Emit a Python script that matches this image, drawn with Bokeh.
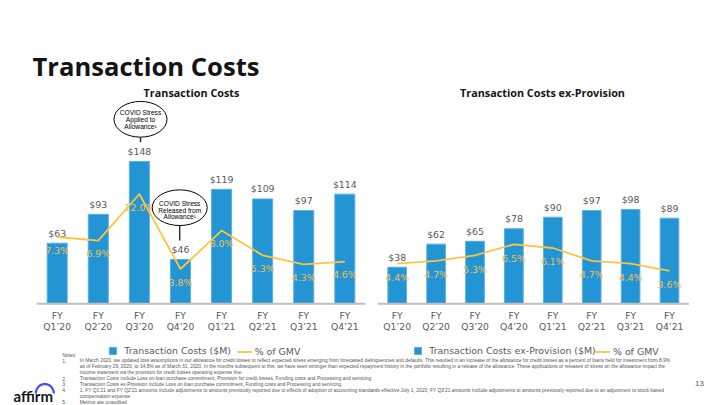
import math
from bokeh.plotting import figure
from bokeh.models import Range1d, Legend, LegendItem
from bokeh.core.properties import value
from bokeh.embed import file_html
from bokeh.resources import INLINE

# ---------------- data ----------------
quarters = ["FY Q1’20", "FY Q2’20", "FY Q3’20", "FY Q4’20",
            "FY Q1’21", "FY Q2’21", "FY Q3’21", "FY Q4’21"]
tc_values = [63, 93, 148, 46, 119, 109, 97, 114]          # Transaction Costs ($M)
tc_pct = [7.3, 6.9, 12.0, 3.8, 8.0, 5.3, 4.3, 4.6]        # % of GMV
exp_values = [38, 62, 65, 78, 90, 97, 98, 89]             # Transaction Costs ex-Provision ($M)
exp_pct = [4.4, 4.7, 5.3, 6.5, 6.1, 4.7, 4.4, 3.6]        # % of GMV

title_text = "Transaction Costs"
left_title = "Transaction Costs"
right_title = "Transaction Costs ex-Provision"
left_bar_label = "Transaction Costs ($M)"
right_bar_label = "Transaction Costs ex-Provision ($M)"
line_label = "% of GMV"
callout_applied = ["COVID Stress", "Applied to", "Allowance¹"]
callout_released = ["COVID Stress", "Released from", "Allowance¹"]

notes_head = "Notes:"
notes_num = ["1.", "", "", "2.", "3.", "4.", "", "5."]
notes_txt = [
    "In March 2020, we updated loss assumptions in our allowance for credit losses to reflect expected stress emerging from forecasted delinquencies and defaults. This resulted in an increase of the allowance for credit losses as a percent of loans held for investment from 8.9%",
    "as of February 29, 2020, to 14.8% as of March 31, 2020. In the months subsequent to this, we have seen stronger than expected repayment history in the portfolio resulting in a release of the allowance. These applications or releases of stress on the allowance impact the",
    "income statement via the provision for credit losses operating expense line.",
    "Transaction Costs include Loss on loan purchase commitment, Provision for credit losses, Funding costs and Processing and servicing",
    "Transaction Costs ex-Provision include Loss on loan purchase commitment, Funding costs and Processing and servicing",
    "1. FY Q1’21 and FY Q2’21 amounts include adjustments to amounts previously reported due to effects of adoption of accounting standards effective July 1, 2020; FY Q3’21 amounts include adjustments to amounts previously reported due to an adjustment to stock-based",
    "compensation expense",
    "Metrics are unaudited",
]
page_number = "13"

# ---------------- styling ----------------
BLUE = "#2394D4"
BLUE_EDGE = "#5AB1E2"
GOLD = "#FCC540"
GOLD_TXT = "#F4C14C"
GRAY = "#595959"
AXIS = "#BFBFBF"
LABEL_FONT = value("DejaVu Sans")
HEAD_FONT = value("Open Sans")

W, H = 720, 405   # primary ranges are slide pixel coordinates (y grows downward)

p = figure(width=W, height=H, x_range=Range1d(0, W), y_range=Range1d(H, 0),
           output_backend="svg", toolbar_location=None, x_axis_type=None, y_axis_type=None,
           min_border=0)
p.outline_line_color = None
p.background_fill_color = "white"
p.border_fill_color = "white"


def x_range_for(center0_px, px_per_unit):
    start = -center0_px / px_per_unit
    return Range1d(start, start + W / px_per_unit)


def y_range_for(base_px, px_per_unit):
    end = base_px / px_per_unit
    return Range1d(end - H / px_per_unit, end)


BASE = 303.3
USD_PX = 0.962
PCT_PX = 9.15
p.extra_y_ranges = {"usd": y_range_for(BASE, USD_PX), "pct": y_range_for(BASE, PCT_PX)}
p.extra_x_ranges = {"lx": x_range_for(56.7, 41.09), "rx": x_range_for(396.7, 38.9)}

idx = list(range(len(quarters)))
fy_part = [q.split(" ")[0] for q in quarters]
q_part = [q.split(" ")[1] for q in quarters]


def draw_chart(xr, vals, pcts, pct_offset, bar_w):
    bars = p.vbar(x=idx, top=vals, bottom=0, width=bar_w, x_range_name=xr, y_range_name="usd",
                  fill_color=BLUE, line_color=BLUE_EDGE, line_width=1)
    p.segment(x0=[-0.5], x1=[len(idx) - 0.5], y0=[0], y1=[0], x_range_name=xr, y_range_name="usd",
              line_color=AXIS, line_width=2)
    p.text(x=idx, y=vals, text=[f"${v}" for v in vals], x_range_name=xr, y_range_name="usd",
           y_offset=-10, text_align="center", text_baseline="middle", text_font=LABEL_FONT,
           text_font_size="9.4px", text_color=GRAY)
    line = p.line(x=idx, y=pcts, x_range_name=xr, y_range_name="pct", line_color=GOLD, line_width=1.8)
    p.text(x=idx, y=pcts, text=[f"{v:.1f}%" for v in pcts], x_range_name=xr, y_range_name="pct",
           y_offset=pct_offset, text_align="center", text_baseline="middle", text_font=LABEL_FONT,
           text_font_size="9.4px", text_color=GOLD_TXT)
    p.text(x=idx, y=[0] * len(idx), text=fy_part, x_range_name=xr, y_range_name="usd",
           y_offset=12, text_align="center", text_baseline="middle", text_font=LABEL_FONT,
           text_font_size="9.2px", text_color=GRAY)
    p.text(x=idx, y=[0] * len(idx), text=q_part, x_range_name=xr, y_range_name="usd",
           y_offset=22.8, text_align="center", text_baseline="middle", text_font=LABEL_FONT,
           text_font_size="9.2px", text_color=GRAY)
    return bars, line


lbars, lline = draw_chart("lx", tc_values, tc_pct, 13, 0.487)
rbars, rline = draw_chart("rx", exp_values, exp_pct, 14, 0.48)


def add_legend(label, renderer, vx, vy, gw, standoff):
    leg = Legend(items=[LegendItem(label=label, renderers=[renderer])], location=(vx, vy),
                 orientation="horizontal", glyph_width=gw, glyph_height=9, label_height=9,
                 label_standoff=standoff, padding=0, margin=0, spacing=0,
                 border_line_color=None, background_fill_alpha=0,
                 label_text_font="DejaVu Sans", label_text_font_size="9.4px",
                 label_text_color=GRAY)
    p.add_layout(leg)


add_legend(left_bar_label, lbars, 108.3, 49, 9, 7)
add_legend(line_label, lline, 236.7, 48, 15, 3)
add_legend(right_bar_label, rbars, 413.3, 49, 9, 7)
add_legend(line_label, rline, 595, 48, 15, 3)

# ---------------- headings ----------------
p.text(x=[32], y=[65.7], text=[title_text], text_font=HEAD_FONT, text_font_style="bold",
       text_font_size="25.6px", text_color="#141414", text_baseline="alphabetic")
p.text(x=[191, 542], y=[92, 92], text=[left_title, right_title], text_font=HEAD_FONT,
       text_font_style="bold", text_font_size="10.8px", text_color="#141414",
       text_align="center", text_baseline="alphabetic")

# ---------------- callouts ----------------
p.segment(x0=[140, 179.2], y0=[136.7, 225], x1=[140, 179.2], y1=[141.7, 240],
          line_color="#333333", line_width=1.5)
p.ellipse(x=[140, 179.2], y=[118.8, 207.2], width=[53, 55], height=[35.7, 35.7],
          fill_color="white", line_color="black", line_width=1)
p.text(x=[140] * 3 + [179.2] * 3, y=[112.3, 119.0, 125.7, 203.3, 209.6, 215.9],
       text=callout_applied + callout_released, text_font=value("Liberation Sans"),
       text_font_size="6.6px", text_color="black", text_align="center", text_baseline="middle")

# ---------------- footnotes ----------------
ys = [360.3 + 5.9 * i for i in range(len(notes_txt))]
p.text(x=[61.7], y=[354.7], text=[notes_head], text_font=value("Liberation Sans"),
       text_font_size="4.9px", text_color="#555555", text_baseline="middle")
p.text(x=[61.7] * len(ys), y=ys, text=notes_num, text_font=value("Liberation Sans"),
       text_font_size="4.9px", text_color="#555555", text_baseline="middle")
p.text(x=[79.3] * len(ys), y=ys, text=notes_txt, text_font=value("Liberation Sans"),
       text_font_size="4.9px", text_color="#555555", text_baseline="middle")
p.text(x=[699], y=[382.5], text=[page_number], text_font=value("Liberation Sans"),
       text_font_size="8px", text_color=GRAY, text_align="center", text_baseline="middle")

# ---------------- logo ----------------
p.text(x=[13], y=[395], text=["affirm"], text_font=value("Lato"), text_font_style="bold",
       text_font_size="15px", text_color="#101820", text_baseline="alphabetic")
arc_t = [math.pi * i / 24 for i in range(25)]
p.line(x=[44.3 + 9 * math.cos(t) for t in arc_t], y=[393 - 9.5 * math.sin(t) for t in arc_t],
       line_color="#4A4AF4", line_width=2.2)

open("out.html", "w").write(file_html(p, INLINE))
